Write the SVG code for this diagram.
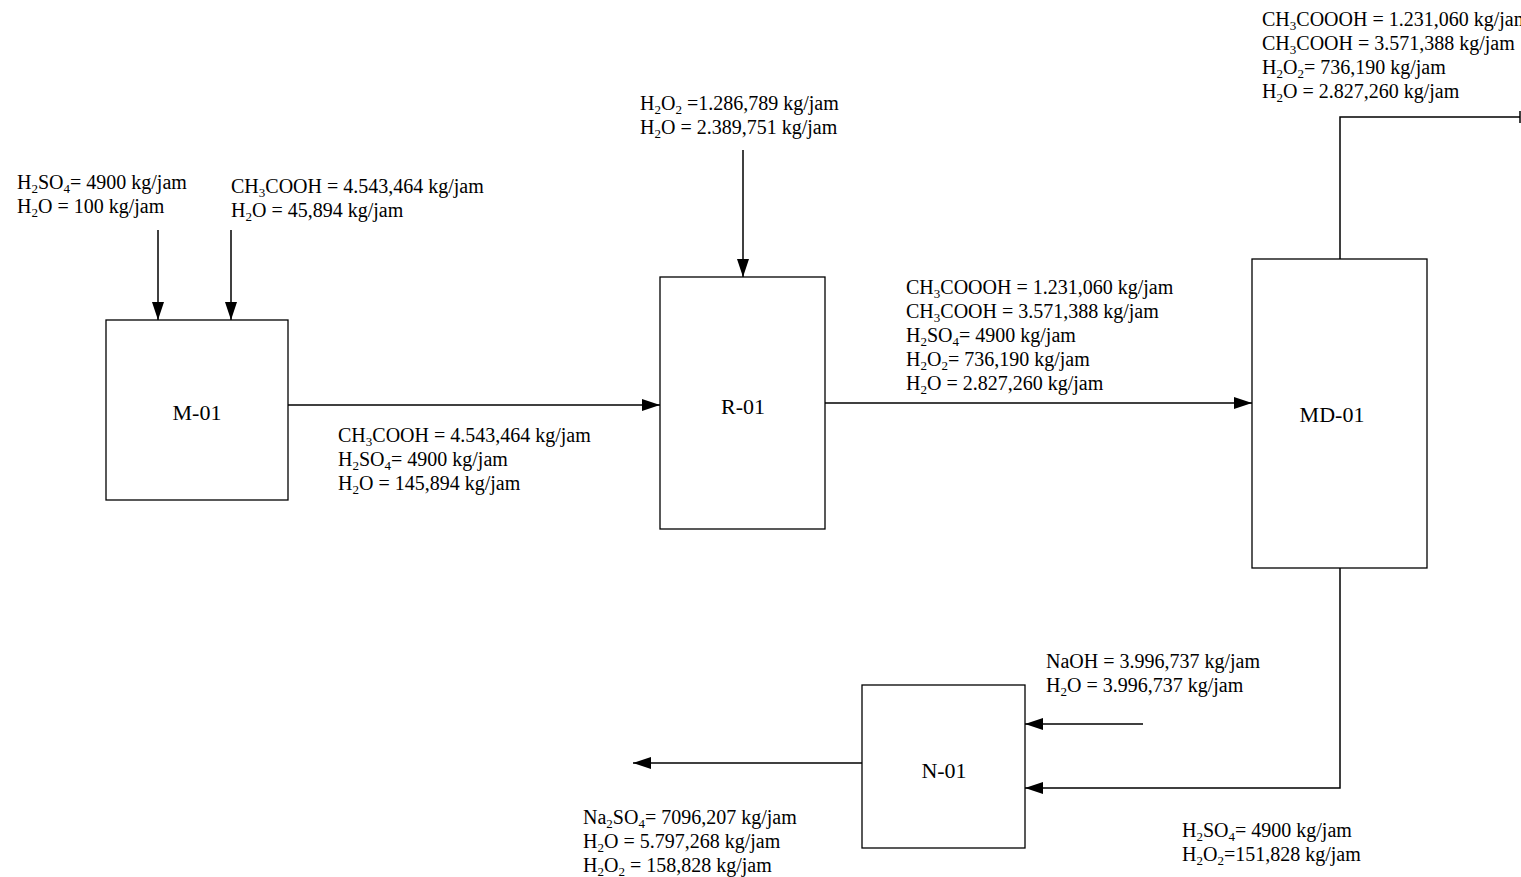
<svg xmlns="http://www.w3.org/2000/svg" width="1521" height="877" viewBox="0 0 1521 877">
<style>
.box{fill:#fff;stroke:#000;stroke-width:1.3}
.ln{fill:none;stroke:#000;stroke-width:1.5}
.t{font-family:"Liberation Serif","Times New Roman",serif;font-size:20px;fill:#000}
.n{font-family:"Liberation Serif","Times New Roman",serif;font-size:22px;fill:#000;text-anchor:middle}
.s{font-size:13px}
</style>
<defs>
<marker id="ah" viewBox="0 0 18 12" refX="18" refY="6" markerWidth="18" markerHeight="12" markerUnits="userSpaceOnUse" orient="auto">
<path d="M0,0 L18,6 L0,12 Z" fill="#000"/>
</marker>
</defs>
<rect width="1521" height="877" fill="#fff"/>
<g id="connectors">
<line class="ln" x1="158" y1="230" x2="158" y2="320" marker-end="url(#ah)"/>
<line class="ln" x1="231" y1="230" x2="231" y2="320" marker-end="url(#ah)"/>
<line class="ln" x1="743" y1="150" x2="743" y2="277" marker-end="url(#ah)"/>
<line class="ln" x1="288" y1="405" x2="660" y2="405" marker-end="url(#ah)"/>
<line class="ln" x1="825" y1="403" x2="1252" y2="403" marker-end="url(#ah)"/>
<polyline class="ln" points="1340,259 1340,117 1520,117"/>
<line class="ln" x1="1520" y1="111" x2="1520" y2="123" stroke-width="2"/>
<polyline class="ln" points="1340,568 1340,788 1025,788" marker-end="url(#ah)"/>
<line class="ln" x1="1143" y1="724" x2="1025" y2="724" marker-end="url(#ah)"/>
<line class="ln" x1="862" y1="763" x2="633" y2="763" marker-end="url(#ah)"/>
</g>
<g id="M-01">
<rect class="box" x="106" y="320" width="182" height="180"/>
<text class="n" x="197" y="420">M-01</text>
</g>
<g id="R-01">
<rect class="box" x="660" y="277" width="165" height="252"/>
<text class="n" x="743" y="414">R-01</text>
</g>
<g id="MD-01">
<rect class="box" x="1252" y="259" width="175" height="309"/>
<text class="n" x="1332" y="422">MD-01</text>
</g>
<g id="N-01">
<rect class="box" x="862" y="685" width="163" height="163"/>
<text class="n" x="944" y="778">N-01</text>
</g>
<g id="labels">
<text class="t" x="17" y="189">H<tspan class="s" dy="4">2</tspan><tspan dy="-4">SO</tspan><tspan class="s" dy="4">4</tspan><tspan dy="-4">= 4900 kg/jam</tspan></text>
<text class="t" x="17" y="213">H<tspan class="s" dy="4">2</tspan><tspan dy="-4">O = 100 kg/jam</tspan></text>

<text class="t" x="231" y="193">CH<tspan class="s" dy="4">3</tspan><tspan dy="-4">COOH = 4.543,464 kg/jam</tspan></text>
<text class="t" x="231" y="217">H<tspan class="s" dy="4">2</tspan><tspan dy="-4">O = 45,894 kg/jam</tspan></text>

<text class="t" x="640" y="110">H<tspan class="s" dy="4">2</tspan><tspan dy="-4">O</tspan><tspan class="s" dy="4">2</tspan><tspan dy="-4"> =1.286,789 kg/jam</tspan></text>
<text class="t" x="640" y="134">H<tspan class="s" dy="4">2</tspan><tspan dy="-4">O = 2.389,751 kg/jam</tspan></text>

<text class="t" x="338" y="442">CH<tspan class="s" dy="4">3</tspan><tspan dy="-4">COOH = 4.543,464 kg/jam</tspan></text>
<text class="t" x="338" y="466">H<tspan class="s" dy="4">2</tspan><tspan dy="-4">SO</tspan><tspan class="s" dy="4">4</tspan><tspan dy="-4">= 4900 kg/jam</tspan></text>
<text class="t" x="338" y="490">H<tspan class="s" dy="4">2</tspan><tspan dy="-4">O = 145,894 kg/jam</tspan></text>

<text class="t" x="906" y="294">CH<tspan class="s" dy="4">3</tspan><tspan dy="-4">COOOH = 1.231,060 kg/jam</tspan></text>
<text class="t" x="906" y="318">CH<tspan class="s" dy="4">3</tspan><tspan dy="-4">COOH = 3.571,388 kg/jam</tspan></text>
<text class="t" x="906" y="342">H<tspan class="s" dy="4">2</tspan><tspan dy="-4">SO</tspan><tspan class="s" dy="4">4</tspan><tspan dy="-4">= 4900 kg/jam</tspan></text>
<text class="t" x="906" y="366">H<tspan class="s" dy="4">2</tspan><tspan dy="-4">O</tspan><tspan class="s" dy="4">2</tspan><tspan dy="-4">= 736,190 kg/jam</tspan></text>
<text class="t" x="906" y="390">H<tspan class="s" dy="4">2</tspan><tspan dy="-4">O = 2.827,260 kg/jam</tspan></text>

<text class="t" x="1262" y="26">CH<tspan class="s" dy="4">3</tspan><tspan dy="-4">COOOH = 1.231,060 kg/jam</tspan></text>
<text class="t" x="1262" y="50">CH<tspan class="s" dy="4">3</tspan><tspan dy="-4">COOH = 3.571,388 kg/jam</tspan></text>
<text class="t" x="1262" y="74">H<tspan class="s" dy="4">2</tspan><tspan dy="-4">O</tspan><tspan class="s" dy="4">2</tspan><tspan dy="-4">= 736,190 kg/jam</tspan></text>
<text class="t" x="1262" y="98">H<tspan class="s" dy="4">2</tspan><tspan dy="-4">O = 2.827,260 kg/jam</tspan></text>

<text class="t" x="1046" y="668">NaOH = 3.996,737 kg/jam</text>
<text class="t" x="1046" y="692">H<tspan class="s" dy="4">2</tspan><tspan dy="-4">O = 3.996,737 kg/jam</tspan></text>

<text class="t" x="1182" y="837">H<tspan class="s" dy="4">2</tspan><tspan dy="-4">SO</tspan><tspan class="s" dy="4">4</tspan><tspan dy="-4">= 4900 kg/jam</tspan></text>
<text class="t" x="1182" y="861">H<tspan class="s" dy="4">2</tspan><tspan dy="-4">O</tspan><tspan class="s" dy="4">2</tspan><tspan dy="-4">=151,828 kg/jam</tspan></text>

<text class="t" x="583" y="824">Na<tspan class="s" dy="4">2</tspan><tspan dy="-4">SO</tspan><tspan class="s" dy="4">4</tspan><tspan dy="-4">= 7096,207 kg/jam</tspan></text>
<text class="t" x="583" y="848">H<tspan class="s" dy="4">2</tspan><tspan dy="-4">O = 5.797,268 kg/jam</tspan></text>
<text class="t" x="583" y="872">H<tspan class="s" dy="4">2</tspan><tspan dy="-4">O</tspan><tspan class="s" dy="4">2</tspan><tspan dy="-4"> = 158,828 kg/jam</tspan></text>
</g>
</svg>
